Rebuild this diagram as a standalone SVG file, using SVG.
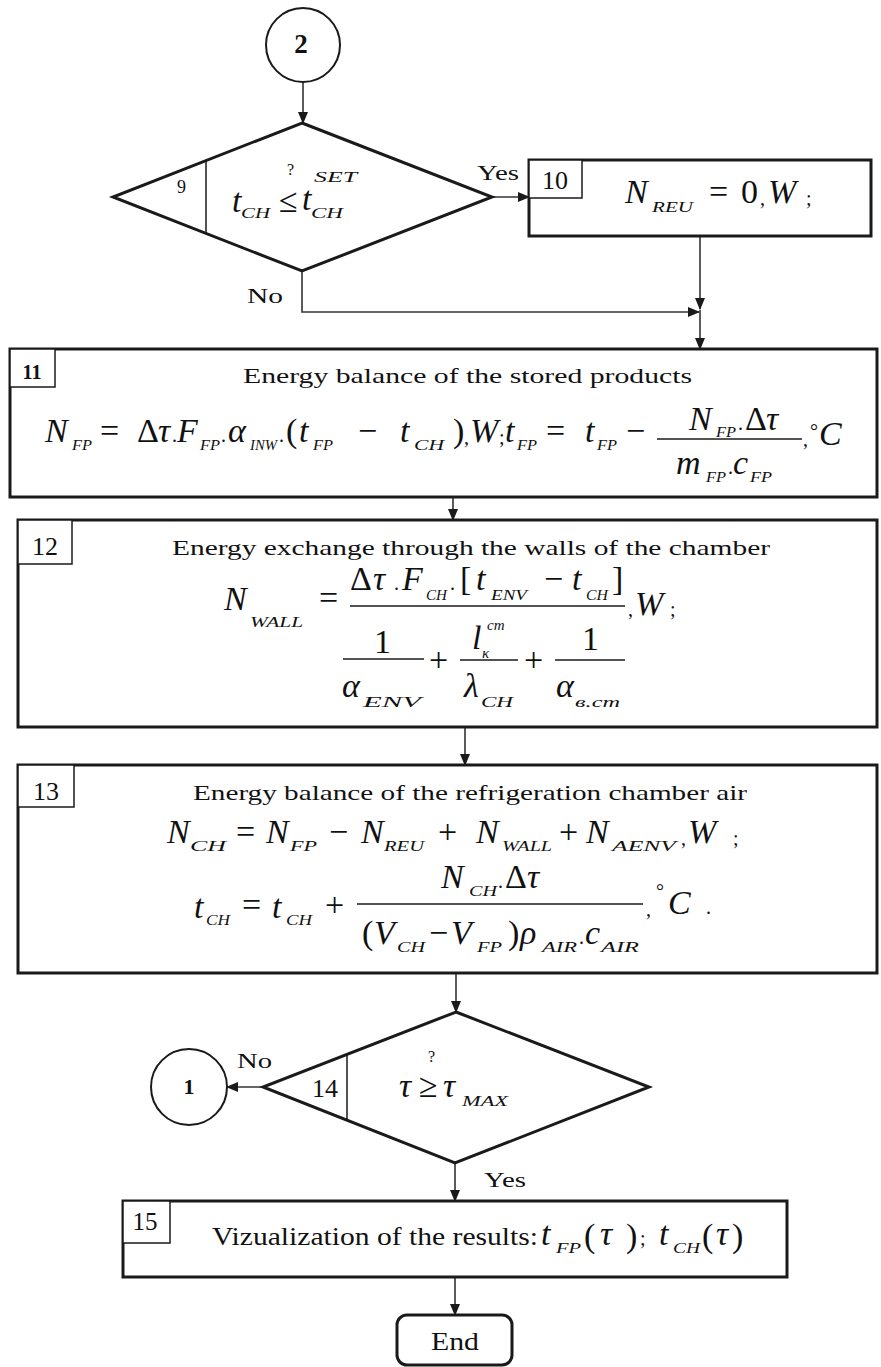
<svg xmlns="http://www.w3.org/2000/svg" width="881" height="1367" viewBox="0 0 881 1367">
<defs>
<marker id="ah" markerUnits="userSpaceOnUse" markerWidth="12" markerHeight="10" refX="11" refY="5" orient="auto">
<path d="M0,0 L12,5 L0,10 Z" fill="#1a1a1a"/>
</marker>
<style>
.box{fill:#fff;stroke:#1a1a1a;stroke-width:3}
.nb{fill:#fff;stroke:#1a1a1a;stroke-width:1.5}
.thin{fill:none;stroke:#1a1a1a;stroke-width:1.5}
.con{fill:none;stroke:#333;stroke-width:1.6}
.bar{stroke:#1a1a1a;stroke-width:1.5}
text{font-family:"Liberation Serif","Times New Roman",serif;fill:#111}
.ti{font-size:21px}
.num{font-size:26px}
.lbl{font-size:20px}
.mi{font-size:34px;font-style:italic}
.mu{font-size:34px}
.sb{font-size:15px;font-style:italic}
.pc{font-size:20px}
.q{font-size:16px}
</style>
</defs>
<rect width="881" height="1367" fill="#fff"/>

<g id="connectors">
<line class="con" x1="303" y1="82" x2="303" y2="123" marker-end="url(#ah)"/>
<line class="con" x1="492" y1="197" x2="529" y2="197" marker-end="url(#ah)"/>
<line class="con" x1="700" y1="236" x2="700" y2="309" marker-end="url(#ah)"/>
<polyline class="con" points="302,271 302,312 699,312" marker-end="url(#ah)"/>
<line class="con" x1="700" y1="310" x2="700" y2="349" marker-end="url(#ah)"/>
<line class="con" x1="453" y1="497" x2="453" y2="520" marker-end="url(#ah)"/>
<line class="con" x1="465" y1="727" x2="465" y2="765" marker-end="url(#ah)"/>
<line class="con" x1="456" y1="973" x2="456" y2="1012" marker-end="url(#ah)"/>
<line class="con" x1="263" y1="1087" x2="227" y2="1087" marker-end="url(#ah)"/>
<line class="con" x1="455" y1="1163" x2="455" y2="1201" marker-end="url(#ah)"/>
<line class="con" x1="455" y1="1277" x2="455" y2="1315" marker-end="url(#ah)"/>
<text class="lbl" x="477" y="180" textLength="42" lengthAdjust="spacingAndGlyphs">Yes</text>
<text class="lbl" x="247" y="303" textLength="36" lengthAdjust="spacingAndGlyphs">No</text>
<text class="lbl" x="237" y="1068" textLength="35" lengthAdjust="spacingAndGlyphs">No</text>
<text class="lbl" x="484" y="1187" textLength="42" lengthAdjust="spacingAndGlyphs">Yes</text>
</g>

<g id="c2">
<circle cx="303" cy="45" r="37" fill="#fff" stroke="#1a1a1a" stroke-width="2"/>
<text x="301" y="53" font-size="27" font-weight="bold" text-anchor="middle">2</text>
</g>

<g id="d9">
<polygon class="box" points="302,123 492,197 302,271 113,197"/>
<line class="thin" x1="206" y1="161" x2="206" y2="233"/>
<text x="177" y="193" font-size="18">9</text>
<text class="q" x="287" y="175">?</text>
<text class="mi" x="232" y="212">t</text>
<text class="sb" x="241" y="218" textLength="29" lengthAdjust="spacingAndGlyphs">CH</text>
<text class="mu" x="279" y="212">≤</text>
<text class="mi" x="302" y="210">t</text>
<text class="sb" x="314" y="182" textLength="43" lengthAdjust="spacingAndGlyphs">SET</text>
<text class="sb" x="311" y="218" textLength="32" lengthAdjust="spacingAndGlyphs">CH</text>
</g>

<g id="b10">
<rect class="box" x="529" y="160" width="342" height="76"/>
<rect class="nb" x="529" y="160" width="53" height="38"/>
<text class="num" x="555" y="189" text-anchor="middle">10</text>
<text class="mi" x="625" y="203">N</text>
<text class="sb" x="652" y="212" textLength="41" lengthAdjust="spacingAndGlyphs">REU</text>
<text class="mu" x="709" y="203">=</text>
<text class="mu" x="741" y="203">0</text>
<text class="pc" x="760" y="205">,</text>
<text class="mi" x="768" y="203">W</text>
<text class="pc" x="806" y="205">;</text>
</g>

<g id="b11">
<rect class="box" x="10" y="349" width="867" height="148"/>
<rect class="nb" x="10" y="349" width="45" height="38"/>
<text x="32" y="379" font-size="20" font-weight="bold" text-anchor="middle">11</text>
<text class="ti" x="243" y="383" textLength="449" lengthAdjust="spacingAndGlyphs">Energy balance of the stored products</text>
<text class="mi" x="45" y="442">N</text>
<text class="sb" x="72" y="450" textLength="20" lengthAdjust="spacingAndGlyphs">FP</text>
<text class="mu" x="100" y="442">=</text>
<text class="mu" x="137" y="442">Δ</text>
<text class="mi" x="158" y="442">τ</text>
<text class="pc" x="172" y="442">.</text>
<text class="mi" x="177" y="442">F</text>
<text class="sb" x="200" y="450" textLength="20" lengthAdjust="spacingAndGlyphs">FP</text>
<text class="pc" x="221" y="442">.</text>
<text class="mi" x="228" y="442">α</text>
<text class="sb" x="250" y="450" textLength="27" lengthAdjust="spacingAndGlyphs">INW</text>
<text class="pc" x="279" y="442">.</text>
<text class="mu" x="286" y="442">(</text>
<text class="mi" x="299" y="442">t</text>
<text class="sb" x="313" y="450" textLength="20" lengthAdjust="spacingAndGlyphs">FP</text>
<text class="mu" x="358" y="442">−</text>
<text class="mi" x="400" y="442">t</text>
<text class="sb" x="414" y="450" textLength="30" lengthAdjust="spacingAndGlyphs">CH</text>
<text class="mu" x="453" y="442">)</text>
<text class="pc" x="464" y="444">,</text>
<text class="mi" x="470" y="442">W</text>
<text class="pc" x="499" y="444">;</text>
<text class="mi" x="505" y="442">t</text>
<text class="sb" x="517" y="450" textLength="20" lengthAdjust="spacingAndGlyphs">FP</text>
<text class="mu" x="546" y="442">=</text>
<text class="mi" x="585" y="442">t</text>
<text class="sb" x="597" y="450" textLength="20" lengthAdjust="spacingAndGlyphs">FP</text>
<text class="mu" x="626" y="442">−</text>
<text class="mi" x="689" y="430">N</text>
<text class="sb" x="716" y="437" textLength="20" lengthAdjust="spacingAndGlyphs">FP</text>
<text class="pc" x="738" y="430">.</text>
<text class="mu" x="745" y="430">Δ</text>
<text class="mi" x="766" y="430">τ</text>
<line class="bar" x1="657" y1="439" x2="802" y2="439"/>
<text class="mi" x="676" y="474">m</text>
<text class="sb" x="706" y="482" textLength="20" lengthAdjust="spacingAndGlyphs">FP</text>
<text class="pc" x="728" y="474">.</text>
<text class="mi" x="733" y="474">c</text>
<text class="sb" x="750" y="482" textLength="22" lengthAdjust="spacingAndGlyphs">FP</text>
<text class="pc" x="803" y="446">,</text>
<text class="pc" x="810" y="438">°</text>
<text class="mi" x="819" y="445">C</text>
</g>

<g id="b12">
<rect class="box" x="18" y="520" width="859" height="207"/>
<rect class="nb" x="18" y="520" width="54" height="44"/>
<text class="num" x="45" y="555" text-anchor="middle">12</text>
<text class="ti" x="172" y="555" textLength="598" lengthAdjust="spacingAndGlyphs">Energy exchange through the walls of the chamber</text>
<text class="mi" x="224" y="610">N</text>
<text class="sb" x="250" y="627" textLength="53" lengthAdjust="spacingAndGlyphs">WALL</text>
<text class="mu" x="319" y="609">=</text>
<text class="mu" x="350" y="590">Δ</text>
<text class="mi" x="373" y="590">τ</text>
<text class="pc" x="394" y="590">.</text>
<text class="mi" x="402" y="590">F</text>
<text class="sb" x="426" y="600" textLength="21" lengthAdjust="spacingAndGlyphs">CH</text>
<text class="pc" x="450" y="590">.</text>
<text class="mu" x="460" y="590">[</text>
<text class="mi" x="476" y="590">t</text>
<text class="sb" x="491" y="600" textLength="36" lengthAdjust="spacingAndGlyphs">ENV</text>
<text class="mu" x="544" y="590">−</text>
<text class="mi" x="572" y="590">t</text>
<text class="sb" x="586" y="600" textLength="22" lengthAdjust="spacingAndGlyphs">CH</text>
<text class="mu" x="612" y="590">]</text>
<line class="bar" x1="350" y1="606" x2="625" y2="606"/>
<text class="pc" x="628" y="616">,</text>
<text class="mi" x="635" y="615">W</text>
<text class="pc" x="670" y="616">;</text>
<text class="mu" x="374" y="653" font-size="31">1</text>
<line class="bar" x1="343" y1="659" x2="424" y2="659"/>
<text class="mi" x="342" y="697">α</text>
<text class="sb" x="363" y="707" textLength="58" lengthAdjust="spacingAndGlyphs">ENV</text>
<text class="mu" x="429" y="671">+</text>
<text class="mi" x="472" y="649">l</text>
<text class="sb" x="487" y="630" font-size="14">cm</text>
<text class="sb" x="482" y="658" font-size="13">κ</text>
<line class="bar" x1="460" y1="660" x2="518" y2="660"/>
<text class="mi" x="464" y="697">λ</text>
<text class="sb" x="481" y="707" textLength="32" lengthAdjust="spacingAndGlyphs">CH</text>
<text class="mu" x="524" y="671">+</text>
<text class="mu" x="582" y="650" font-size="31">1</text>
<line class="bar" x1="555" y1="660" x2="625" y2="660"/>
<text class="mi" x="556" y="697">α</text>
<text class="sb" x="575" y="707" textLength="45" lengthAdjust="spacingAndGlyphs">в.cm</text>
</g>

<g id="b13">
<rect class="box" x="18" y="765" width="859" height="208"/>
<rect class="nb" x="18" y="765" width="56" height="42"/>
<text class="num" x="46" y="800" text-anchor="middle">13</text>
<text class="ti" x="193" y="800" textLength="554" lengthAdjust="spacingAndGlyphs">Energy balance of the refrigeration chamber air</text>
<text class="mi" x="167" y="843">N</text>
<text class="sb" x="190" y="851" textLength="36" lengthAdjust="spacingAndGlyphs">CH</text>
<text class="mu" x="236" y="843">=</text>
<text class="mi" x="266" y="843">N</text>
<text class="sb" x="290" y="851" textLength="27" lengthAdjust="spacingAndGlyphs">FP</text>
<text class="mu" x="329" y="843">−</text>
<text class="mi" x="361" y="843">N</text>
<text class="sb" x="384" y="851" textLength="40" lengthAdjust="spacingAndGlyphs">REU</text>
<text class="mu" x="438" y="843">+</text>
<text class="mi" x="476" y="843">N</text>
<text class="sb" x="502" y="851" textLength="50" lengthAdjust="spacingAndGlyphs">WALL</text>
<text class="mu" x="559" y="843">+</text>
<text class="mi" x="586" y="843">N</text>
<text class="sb" x="612" y="851" textLength="64" lengthAdjust="spacingAndGlyphs">AENV</text>
<text class="pc" x="681" y="845">,</text>
<text class="mi" x="688" y="843">W</text>
<text class="pc" x="733" y="845">;</text>
<text class="mi" x="194" y="918">t</text>
<text class="sb" x="206" y="925" textLength="24" lengthAdjust="spacingAndGlyphs">CH</text>
<text class="mu" x="242" y="916">=</text>
<text class="mi" x="272" y="918">t</text>
<text class="sb" x="286" y="925" textLength="26" lengthAdjust="spacingAndGlyphs">CH</text>
<text class="mu" x="325" y="916">+</text>
<text class="mi" x="441" y="888">N</text>
<text class="sb" x="469" y="896" textLength="28" lengthAdjust="spacingAndGlyphs">CH</text>
<text class="pc" x="498" y="888">.</text>
<text class="mu" x="505" y="888">Δ</text>
<text class="mi" x="527" y="888">τ</text>
<line class="bar" x1="357" y1="904" x2="643" y2="904"/>
<text class="mu" x="362" y="944">(</text>
<text class="mi" x="374" y="944">V</text>
<text class="sb" x="397" y="952" textLength="28" lengthAdjust="spacingAndGlyphs">CH</text>
<text class="mu" x="429" y="944">−</text>
<text class="mi" x="451" y="944">V</text>
<text class="sb" x="477" y="952" textLength="25" lengthAdjust="spacingAndGlyphs">FP</text>
<text class="mu" x="508" y="944">)</text>
<text class="mi" x="520" y="944">ρ</text>
<text class="sb" x="542" y="952" textLength="35" lengthAdjust="spacingAndGlyphs">AIR</text>
<text class="pc" x="579" y="944">.</text>
<text class="mi" x="585" y="944">c</text>
<text class="sb" x="601" y="952" textLength="38" lengthAdjust="spacingAndGlyphs">AIR</text>
<text class="pc" x="646" y="916">,</text>
<text class="pc" x="656" y="898">°</text>
<text class="mi" x="668" y="914">C</text>
<text class="pc" x="706" y="914">.</text>
</g>

<g id="d14">
<polygon class="box" points="456,1012 649,1087 455,1163 263,1087"/>
<line class="thin" x1="347" y1="1054" x2="347" y2="1120"/>
<text class="num" x="312" y="1097">14</text>
<text class="q" x="428" y="1062">?</text>
<text class="mi" x="399" y="1097">τ</text>
<text class="mu" x="419" y="1097">≥</text>
<text class="mi" x="443" y="1097">τ</text>
<text class="sb" x="462" y="1106" textLength="46" lengthAdjust="spacingAndGlyphs">MAX</text>
</g>

<g id="c1">
<circle cx="189" cy="1087" r="38" fill="#fff" stroke="#1a1a1a" stroke-width="2"/>
<text x="189" y="1094" font-size="22" font-weight="bold" text-anchor="middle">1</text>
</g>

<g id="b15">
<rect class="box" x="123" y="1201" width="664" height="76"/>
<rect class="nb" x="123" y="1201" width="47" height="42"/>
<text x="145" y="1230" font-size="25" text-anchor="middle">15</text>
<text x="212" y="1245" font-size="26" textLength="326" lengthAdjust="spacingAndGlyphs">Vizualization of the results:</text>
<text class="mi" x="541" y="1245" font-size="31">t</text>
<text class="sb" x="556" y="1253" textLength="25" lengthAdjust="spacingAndGlyphs">FP</text>
<text class="mu" x="584" y="1247" font-size="38">(</text>
<text class="mi" x="600" y="1245" font-size="31">τ</text>
<text class="mu" x="626" y="1247" font-size="38">)</text>
<text class="pc" x="640" y="1245">;</text>
<text class="mi" x="659" y="1245" font-size="31">t</text>
<text class="sb" x="673" y="1253" textLength="27" lengthAdjust="spacingAndGlyphs">CH</text>
<text class="mu" x="702" y="1247" font-size="38">(</text>
<text class="mi" x="716" y="1245" font-size="31">τ</text>
<text class="mu" x="732" y="1247" font-size="38">)</text>
</g>

<g id="end">
<rect x="397" y="1315" width="115" height="50" rx="10" ry="10" fill="#fff" stroke="#1a1a1a" stroke-width="3"/>
<text x="455" y="1350" font-size="26" text-anchor="middle" textLength="48" lengthAdjust="spacingAndGlyphs">End</text>
</g>
</svg>
